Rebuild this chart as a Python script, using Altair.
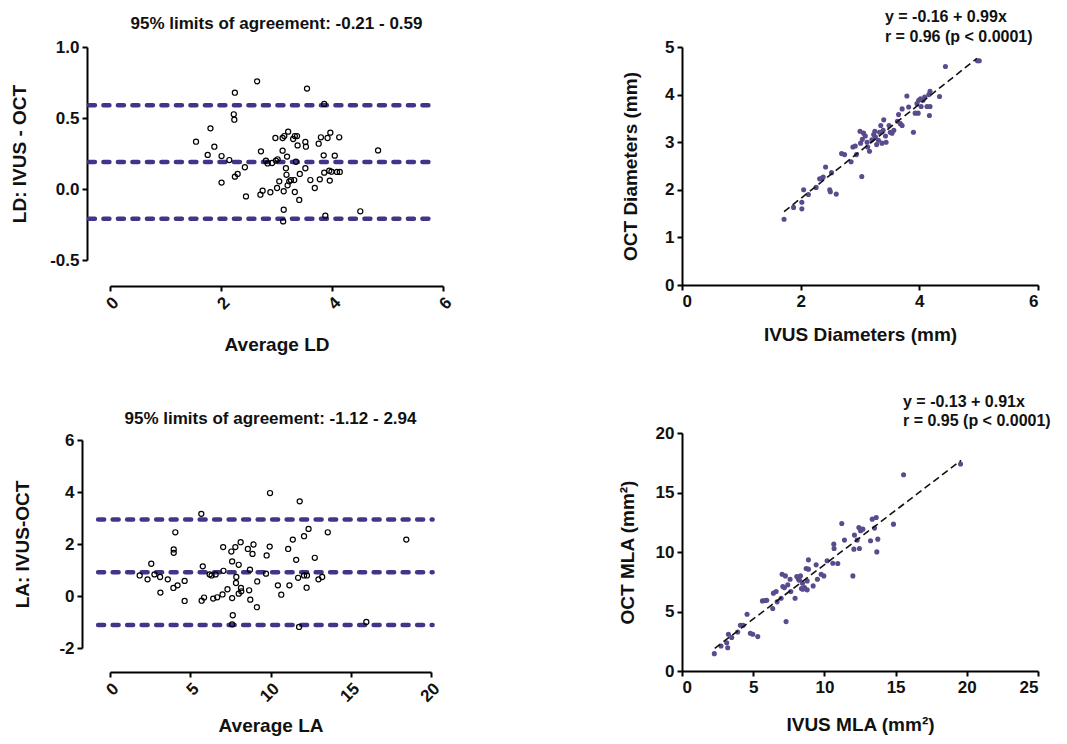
import altair as alt
import pandas as pd

FONT = "Liberation Sans"
TXT = "#111111"
LINE_PURPLE = "#45338a"
DOT_PURPLE = "#5b4b8c"

# ---------------- Panel 1: Bland-Altman, lumen diameter ----------------
ld_avg = [1.55, 1.76, 1.81, 1.88, 2.01, 2.01, 2.15, 2.25, 2.23, 2.24, 2.25, 2.30, 2.43, 2.45,
          2.65, 2.72, 2.71, 2.75, 2.81, 2.84, 2.89, 2.92, 2.98, 2.99, 3.01, 3.05, 3.02, 3.11,
          3.11, 3.14, 3.17, 3.18, 3.13, 3.13, 3.12, 3.19, 3.21, 3.20, 3.23, 3.26, 3.32, 3.30,
          3.33, 3.35, 3.38, 3.37, 3.33, 3.41, 3.42, 3.52, 3.53, 3.52, 3.55, 3.61, 3.69, 3.76,
          3.80, 3.78, 3.85, 3.86, 3.88, 3.86, 3.92, 3.95, 3.97, 3.96, 3.99, 4.05, 4.09, 4.14,
          4.13, 4.51, 4.83]
ld_diff = [0.333, 0.24, 0.427, 0.298, 0.045, 0.232, 0.204, 0.678, 0.526, 0.488, 0.087, 0.106,
           0.153, -0.052, 0.758, 0.265, -0.04, -0.012, 0.20, 0.18, -0.023, 0.183, 0.359, 0.20,
           0.007, 0.054, 0.209, 0.27, 0.359, 0.373, 0.146, 0.10, -0.016, -0.146, -0.228, 0.228,
           0.404, 0.026, 0.054, 0.063, 0.063, 0.352, 0.373, 0.192, 0.307, 0.373, -0.021, -0.077,
           0.106, 0.331, 0.298, 0.146, 0.707, 0.063, 0.007, 0.319, 0.364, 0.068, 0.237, 0.599,
           -0.188, 0.115, 0.359, 0.129, 0.397, 0.059, 0.122, 0.235, 0.12, 0.12, 0.364, -0.157,
           0.272]
ld_lines = [-0.21, 0.19, 0.59]
ld_line_x = [-0.38, 5.88]

# ---------------- Panel 2: diameters correlation ----------------
ivus_d = [1.72, 1.88, 2.02, 2.02, 2.05, 2.13, 2.26, 2.32, 2.36, 2.38, 2.42, 2.49, 2.50, 2.52,
          2.60, 2.69, 2.74, 2.85, 2.88, 2.92, 2.94, 3.00, 3.03, 3.01, 3.04, 3.06, 3.09, 3.12,
          3.13, 3.16, 3.20, 3.23, 3.25, 3.26, 3.28, 3.31, 3.33, 3.35, 3.37, 3.39, 3.40, 3.43,
          3.44, 3.49, 3.51, 3.54, 3.57, 3.63, 3.65, 3.68, 3.71, 3.71, 3.79, 3.82, 3.90, 3.93,
          3.96, 3.98, 3.99, 4.02, 4.03, 4.06, 4.09, 4.13, 4.16, 4.17, 4.18, 4.18, 4.34, 4.44,
          4.98, 5.01]
oct_d = [1.38, 1.63, 1.74, 1.60, 2.00, 1.90, 2.05, 2.23, 2.24, 2.27, 2.48, 2.00, 1.96, 2.36,
         1.91, 2.76, 2.74, 2.59, 2.90, 2.92, 2.74, 3.23, 2.28, 2.98, 3.06, 3.19, 3.13, 3.00,
         2.90, 2.81, 3.05, 3.16, 3.23, 3.11, 2.95, 3.04, 3.21, 3.35, 2.98, 3.25, 3.47, 3.13,
         3.00, 3.35, 3.21, 3.19, 3.25, 3.44, 3.58, 3.39, 3.70, 3.35, 3.97, 3.74, 3.21, 3.61,
         3.81, 3.61, 3.88, 3.91, 3.75, 3.88, 3.95, 3.75, 4.00, 3.56, 4.07, 3.75, 3.96, 4.59,
         4.71, 4.71]
d_fit_x = [1.72, 4.97]
d_fit_y = [1.54, 4.76]
d_text = ["y = -0.16 + 0.99x", "r = 0.96 (p < 0.0001)"]
d_text_x = [3.42, 3.42]
d_text_y = [5.64, 5.22]

# ---------------- Panel 3: Bland-Altman, lumen area ----------------
la_avg = [1.85, 2.34, 2.57, 2.77, 3.12, 3.14, 3.60, 3.95, 3.97, 3.97, 4.07, 4.21, 4.65, 4.65,
          5.69, 5.78, 5.71, 5.86, 6.21, 6.33, 6.58, 6.43, 6.68, 7.01, 7.05, 7.07, 7.32, 7.56,
          7.61, 7.61, 7.65, 7.61, 7.81, 7.87, 7.85, 8.02, 8.02, 8.14, 8.18, 8.16, 8.59, 8.67,
          8.72, 8.74, 8.94, 8.88, 9.17, 9.15, 9.76, 9.72, 9.97, 9.95, 10.46, 10.67, 11.10, 11.18,
          11.39, 11.60, 11.72, 11.78, 11.82, 12.09, 12.09, 12.27, 12.25, 12.37, 12.76, 12.99,
          13.22, 13.57, 15.97, 18.46]
la_diff = [0.79, 0.64, 1.24, 0.83, 0.73, 0.13, 0.64, 0.31, 1.79, 1.66, 2.45, 0.41, 0.58, -0.19,
           3.16, 1.14, -0.18, -0.06, 0.83, 0.79, 0.83, -0.10, -0.05, 0.06, 1.88, 0.97, 0.26, 1.71,
           1.33, -0.08, -0.74, -1.09, 1.88, 0.73, 0.50, 1.20, 0.09, 2.07, 0.18, 0.31, 1.81, 0.22,
           1.01, -0.14, 1.98, 1.62, 0.56, -0.43, 1.56, 0.86, 3.96, 1.90, 0.41, 0.05, 1.81, 0.41,
           2.17, 1.39, 0.70, -1.19, 3.64, 2.30, 0.79, 0.79, 0.32, 2.58, 1.47, 0.64, 0.73, 2.45,
           -1.00, 2.17]
la_lines = [-1.12, 0.91, 2.94]
la_line_x = [-0.74, 20.1]

# ---------------- Panel 4: MLA correlation ----------------
ivus_a = [2.27, 2.74, 3.14, 3.21, 3.26, 3.49, 3.91, 4.10, 4.29, 4.57, 4.80, 4.97, 5.32, 5.65,
          5.83, 5.95, 6.37, 6.42, 6.61, 6.68, 6.96, 7.03, 7.08, 7.19, 7.26, 7.31, 7.43, 7.59,
          7.64, 7.94, 8.06, 8.18, 8.25, 8.32, 8.39, 8.46, 8.48, 8.60, 8.72, 8.79, 8.79, 8.88,
          8.88, 9.21, 9.42, 9.51, 9.77, 9.96, 10.19, 10.59, 10.66, 10.68, 10.94, 11.22, 11.41,
          12.00, 12.07, 12.11, 12.30, 12.46, 12.42, 12.54, 12.70, 13.24, 13.36, 13.52, 13.64,
          13.68, 13.75, 14.85, 15.56, 19.56]
oct_a = [1.46, 2.10, 2.38, 1.96, 3.09, 2.81, 3.28, 3.84, 3.84, 4.77, 3.17, 3.09, 2.89, 5.89,
         5.92, 5.95, 5.25, 6.54, 6.68, 5.81, 6.11, 8.13, 7.10, 7.01, 7.99, 4.15, 7.24, 7.71,
         6.68, 6.11, 7.94, 7.71, 7.63, 7.99, 6.93, 7.38, 6.87, 7.01, 8.61, 7.57, 6.82, 9.34,
         8.56, 7.15, 8.92, 7.71, 8.13, 7.99, 9.26, 9.06, 10.66, 10.29, 9.03, 12.40, 11.00,
         7.99, 10.24, 11.42, 11.00, 10.29, 12.06, 11.78, 11.92, 10.94, 12.76, 12.01, 12.90,
         10.01, 11.08, 12.34, 16.49, 17.39]
a_fit_x = [2.3, 19.6]
a_fit_y = [1.9, 17.7]
a_text = ["y = -0.13 + 0.91x", "r = 0.95 (p < 0.0001)"]
a_text_x = [15.52, 15.52]
a_text_y = [22.6, 21.0]


def neg_label(fmt):
    return f"datum.value < 0 ? '-' + format(-datum.value, '{fmt}') : format(datum.value, '{fmt}')"


def bland_altman(avg, diff, lines, line_x, xdom, xvals, ydom, yvals, yfmt,
                 xtitle, ytitle, title, w, h, xoff, yoff, xtp, ytp, toff):
    df = pd.DataFrame({"a": avg, "d": diff})
    xs = alt.Scale(domain=xdom, nice=False, zero=False)
    ys = alt.Scale(domain=ydom, nice=False, zero=False)
    xax = alt.Axis(values=xvals, labelAngle=-45, offset=xoff, title=xtitle,
                   labelExpr=neg_label("d"), titlePadding=xtp)
    yax = alt.Axis(values=yvals, offset=yoff, title=ytitle, labelExpr=neg_label(yfmt),
                   titlePadding=ytp)
    pts = alt.Chart(df).mark_point(shape="circle", filled=False, color="black",
                                   size=26, strokeWidth=1.2, opacity=1).encode(
        x=alt.X("a:Q", scale=xs, axis=xax),
        y=alt.Y("d:Q", scale=ys, axis=yax),
    )
    ldf = pd.DataFrame({"y": lines, "x0": [line_x[0]] * len(lines), "x1": [line_x[1]] * len(lines)})
    rules = alt.Chart(ldf).mark_rule(color=LINE_PURPLE, strokeWidth=4.5, strokeDash=[6, 8.5],
                                     strokeCap="round").encode(
        x=alt.X("x0:Q", scale=xs, title=xtitle),
        x2="x1:Q",
        y=alt.Y("y:Q", scale=ys, title=ytitle),
    )
    return alt.layer(rules, pts).properties(
        width=w, height=h,
        title=alt.TitleParams(title, font=FONT, fontSize=17, fontWeight="bold", color=TXT,
                              offset=toff, anchor="middle", frame="group"),
    )


def correlation(xv, yv, fx, fy, tx, ty, texts, xdom, xvals, ydom, yvals, xtitle, ytitle,
                w, h, xtp, ytp):
    df = pd.DataFrame({"x": xv, "y": yv})
    xs = alt.Scale(domain=xdom, nice=False, zero=False)
    ys = alt.Scale(domain=ydom, nice=False, zero=False)
    xax = alt.Axis(values=xvals, title=xtitle, titlePadding=xtp, format="d")
    yax = alt.Axis(values=yvals, title=ytitle, titlePadding=ytp, format="d")
    pts = alt.Chart(df).mark_circle(size=26, color=DOT_PURPLE, opacity=1).encode(
        x=alt.X("x:Q", scale=xs, axis=xax),
        y=alt.Y("y:Q", scale=ys, axis=yax),
    )
    fit = alt.Chart(pd.DataFrame({"x": fx, "y": fy})).mark_line(
        color="#111111", strokeWidth=1.6, strokeDash=[7, 4]).encode(
        x=alt.X("x:Q", scale=xs, title=xtitle),
        y=alt.Y("y:Q", scale=ys, title=ytitle),
    )
    txt = alt.Chart(pd.DataFrame({"x": tx, "y": ty, "t": texts})).mark_text(
        align="left", baseline="middle", font=FONT, fontSize=16, fontWeight="bold",
        color=TXT).encode(
        x=alt.X("x:Q", scale=xs, title=xtitle),
        y=alt.Y("y:Q", scale=ys, title=ytitle),
        text="t:N",
    )
    return alt.layer(pts, fit, txt).properties(width=w, height=h)


p1 = bland_altman(ld_avg, ld_diff, ld_lines, ld_line_x, [0, 6], [0, 2, 4, 6],
                  [-0.5, 1.0], [-0.5, 0, 0.5, 1.0], ".1f", "Average LD", "LD: IVUS - OCT",
                  "95% limits of agreement: -0.21 - 0.59", 333, 213, 26, 23, 24, 20, 5)
p3 = bland_altman(la_avg, la_diff, la_lines, la_line_x, [0, 20], [0, 5, 10, 15, 20],
                  [-2, 6], [-2, 0, 2, 4, 6], "d", "Average LA", "LA: IVUS-OCT",
                  "95% limits of agreement: -1.12 - 2.94", 321, 208, 24, 28, 12, 26, 3)
p2 = correlation(ivus_d, oct_d, d_fit_x, d_fit_y, d_text_x, d_text_y, d_text,
                 [0, 6], [0, 2, 4, 6], [0, 5], [0, 1, 2, 3, 4, 5],
                 "IVUS Diameters (mm)", "OCT Diameters (mm)", 356, 238, 16, 24)
p4 = correlation(ivus_a, oct_a, a_fit_x, a_fit_y, a_text_x, a_text_y, a_text,
                 [0, 25], [0, 5, 10, 15, 20, 25], [0, 20], [0, 5, 10, 15, 20],
                 "IVUS MLA (mm²)", "OCT MLA (mm²)", 356, 238, 20, 18)

col1 = alt.vconcat(p1, p3, spacing=180, bounds="flush")
col2 = alt.vconcat(p2, p4, spacing=148, bounds="flush")

chart = alt.hconcat(col1, col2, spacing=163).properties(
    padding={"left": 2, "top": 0, "right": 0, "bottom": 0},
    background="white",
).configure_axis(
    domainColor="black", domainWidth=2, tickColor="black", tickWidth=2, tickSize=5,
    labelFont=FONT, labelFontSize=17, labelFontWeight="bold", labelColor=TXT, labelPadding=3,
    titleFont=FONT, titleFontSize=19, titleFontWeight="bold", titleColor=TXT, grid=False,
).configure_view(stroke=None)

chart.save("out.html", embed_options={"renderer": "svg", "actions": False})
